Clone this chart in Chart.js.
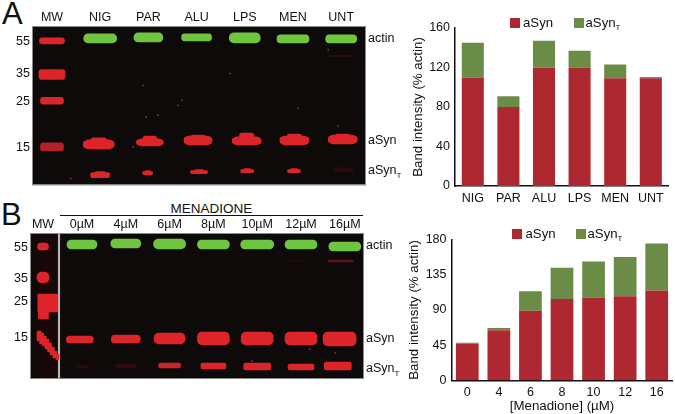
<!DOCTYPE html>
<html lang="en">
<head>
<meta charset="UTF-8" />
<title>aSyn band intensity</title>
<script src="https://cdn.jsdelivr.net/npm/chart.js"></script>
<style>
  html, body { margin: 0; padding: 0; background: #fff; }
  body { position: relative; width: 675px; height: 414px; overflow: hidden; font-family: "Liberation Sans", Arial, sans-serif; color: #111; }
  canvas { position: absolute; filter: blur(0.35px); }
  .letter { position: absolute; font-size: 31px; line-height: 31px; }
  .leg { position: absolute; font-size: 13.2px; line-height: 14px; white-space: nowrap; }
  .swatch { position: absolute; width: 10px; height: 10px; }
  .leg sub { font-size: 8px; line-height: 0; vertical-align: -3px; }
  #menadione { position: absolute; left: 60px; top: 202px; width: 303px; height: 13px; border-bottom: 1px solid #111; text-align: center; font-size: 13.5px; line-height: 14px; }
</style>
</head>
<body>
<div class="letter" style="left:2px;top:-2px">A</div>
<div class="letter" style="left:1px;top:199px">B</div>
<div id="menadione">MENADIONE</div>
<canvas id="gelA" width="410" height="195" style="left:0;top:0"></canvas>
<canvas id="gelB" width="410" height="195" style="left:0;top:195px"></canvas>
<canvas id="barA" width="265" height="205" style="left:410px;top:0"></canvas>
<canvas id="barB" width="269" height="209" style="left:406px;top:205px"></canvas>
<script>
// Bar charts
const treatments = ['NIG', 'PAR', 'ALU', 'LPS', 'MEN', 'UNT'];
const aSynA = [110, 80, 120, 120, 109, 109];
const aSynTA = [35, 11, 27, 17, 14, 1.5];
const doses = ['0', '4', '6', '8', '10', '12', '16'];
const aSynB = [47, 64, 89, 104, 106, 107.5, 115];
const aSynTB = [1, 3, 25, 40, 46, 50.5, 60];

// Gel A, lanes and band extents (migration distance from top of blot)
const lanesA = ['MW', 'NIG', 'PAR', 'ALU', 'LPS', 'MEN', 'UNT'];
const markersA = ['55', '35', '25', '15'];
const markerPosA = [15, 47, 75, 122];
const bandPosA = [12, 115, 145];
const actinTopA = [7, 6, 7, 6, 8, 8];
const actinBottomA = [16, 15, 14, 16, 16, 16];
const actinWidthA = [33, 29, 30, 31, 32, 31];
const synLaneA = [0.97, 2.03, 3.03, 4.04, 5.03, 6.03];
const synTopA = [112, 110, 109, 107, 108, 108];
const synShoulderA = [114, 113, 110, 111, 110, 109];
const synBottomA = [123, 120, 119, 119, 119, 118];
const synWidthA = [31, 27, 28, 29, 29, 29];
const truncLaneA = [1, 1.985, 3.05, 4.05, 5.02, 6.04];
const truncTopA = [146, 145, 144, 143, 143, 142];
const truncBottomA = [152, 149, 148, 147, 147, 146];
const truncWidthA = [19, 10, 17, 13, 13, 20];
const mwTopA = [11, 43, 71, 117];
const mwBottomA = [17, 53, 78, 125];
const mwWidthA = [25, 26, 23, 23];
const speckXA = [1.89, 1.95, 2.2, 2.7, 2.61, 3.69, 5.73, 5.1, 5.93, 0.39, 1.68];
const speckYA = [59, 91, 89, 74, 79, 47, 23, 82, 100, 153, 121];

// Gel B
const lanesB = ['MW', '0\u00B5M', '4\u00B5M', '6\u00B5M', '8\u00B5M', '10\u00B5M', '12\u00B5M', '16\u00B5M'];
const laneAxisB = [-0.89, 0, 1, 2, 3, 4, 5, 6];
const markersB = ['55', '35', '25', '15'];
const markerPosB = [14, 45, 68, 104];
const bandPosB = [12, 105, 135];
const actinTopB = [6, 5, 5, 6, 6, 6, 8];
const actinBottomB = [15, 14, 15, 15, 15, 15, 17];
const actinWidthB = [30, 30, 32, 32, 33, 32, 32];
const synLaneB = [-0.05, 1, 2, 3, 4, 5, 5.88];
const synTopB = [102, 101, 99, 98, 98, 98, 98];
const synBottomB = [109, 109, 110, 111, 111, 111, 112];
const synWidthB = [27, 29, 31, 32, 32, 32, 33];
const truncLaneB = [0, 1, 2, 3, 4, 5, 5.84];
const truncTopB = [131, 130, 129, 129, 129, 130, 128];
const truncBottomB = [134, 134, 134, 135, 136, 136, 136];
const truncWidthB = [12, 20, 22, 25, 27, 26, 27];
const truncColorB = ['#2a0b0c', '#2e0c0d', '#c8242a', '#dc2429', '#dc2429', '#dc2429', '#dc2429'];
// marker lane: 55, 35, the 25 smear in two parts, then the diagonal 15 smear
const mwLaneB = [-0.89, -0.89, -0.78, -0.88, -0.98, -0.92, -0.86, -0.8, -0.74, -0.68, -0.62, -0.56];
const mwTopB = [9, 38, 60, 76, 97, 99, 102, 105, 109, 113, 117, 120];
const mwBottomB = [16, 49, 78, 85, 107, 110, 112, 115, 118, 121, 124, 126];
const mwWidthB = [11, 12, 20, 10, 4, 4, 4, 4, 4, 4, 4, 3];
const speckXB = [5.2, 5.78, 3.88];
const speckYB = [115, 119, 127];

const gelRed = '#dc2429';
const gelGreen = '#6fc540';
const barRed = '#ad2830';
const barGreen = '#6b8c47';
const fontSpec = { family: '"Liberation Sans", Arial, sans-serif', size: 12.5 };
const titleFont = { family: '"Liberation Sans", Arial, sans-serif', size: 13.3 };

function band(x, top, bottom, width, color, radius) {
  return {
    type: 'bar', data: [{ x: x, y: [top, bottom] }], barThickness: width, grouped: false,
    backgroundColor: color, borderRadius: radius === undefined ? 5 : radius, borderSkipped: false
  };
}

function specks(xs, ys) {
  return {
    type: 'scatter', data: xs.map((x, i) => ({ x: x, y: ys[i] })),
    pointRadius: 0.8, pointBackgroundColor: '#c4453a', pointBorderWidth: 0
  };
}

// blot background, frame and the subscript on the aSyn-T row
function gelPlugin(bandPos) {
  return {
    id: 'gelFrame',
    beforeDatasetsDraw(chart) {
      const a = chart.chartArea, ctx = chart.ctx;
      ctx.save();
      ctx.fillStyle = '#0e0a0a';
      ctx.fillRect(a.left, a.top, a.width, a.height);
      ctx.restore();
    },
    afterDraw(chart) {
      const a = chart.chartArea, ctx = chart.ctx;
      ctx.save();
      ctx.strokeStyle = '#8a8a8a';
      ctx.strokeRect(a.left - 0.5, a.top - 0.5, a.width + 1, a.height + 1);
      ctx.font = '12.5px "Liberation Sans"';
      const w = ctx.measureText('aSyn').width;
      ctx.font = '8px "Liberation Sans"';
      ctx.fillStyle = '#111';
      ctx.textBaseline = 'middle';
      ctx.fillText('T', a.right + 3 + w, chart.scales.y.getPixelForValue(bandPos[2]) + 5);
      ctx.restore();
    }
  };
}

function gelChart(id, datasets, cfg) {
  const fixedTicks = (values) => (scale) => { scale.ticks = values.map(v => ({ value: v })); };
  return new Chart(document.getElementById(id), {
    type: 'bar',
    data: { datasets: datasets },
    plugins: [gelPlugin(cfg.bandPos)],
    options: {
      responsive: false,
      animation: false,
      layout: { padding: { bottom: cfg.bottom } },
      plugins: { legend: { display: false }, tooltip: { enabled: false } },
      scales: {
        x: {
          type: 'linear', position: 'top', offset: false, min: cfg.xMin, max: cfg.xMax,
          grid: { display: false, drawTicks: false }, border: { display: false },
          afterBuildTicks: fixedTicks(cfg.laneAxis),
          afterFit(s) { s.height = cfg.top; },
          ticks: {
            color: '#111', font: fontSpec, padding: 2, maxRotation: 0, autoSkip: false,
            callback: (v, i) => cfg.lanes[i]
          }
        },
        y: {
          type: 'linear', reverse: true, min: 0, max: cfg.height,
          grid: { display: false, drawTicks: false }, border: { display: false },
          afterBuildTicks: fixedTicks(cfg.markerPos),
          afterFit(s) { s.width = cfg.left; },
          ticks: {
            color: '#111', font: fontSpec, padding: 3, autoSkip: false,
            callback: (v, i) => cfg.markers[i]
          }
        },
        y2: {
          type: 'linear', position: 'right', reverse: true, min: 0, max: cfg.height,
          grid: { display: false, drawTicks: false }, border: { display: false },
          afterBuildTicks: fixedTicks(cfg.bandPos),
          afterFit(s) { s.width = cfg.right; },
          ticks: {
            color: '#111', font: fontSpec, padding: 3, autoSkip: false,
            callback: (v, i) => ['actin', 'aSyn', 'aSyn'][i]
          }
        }
      }
    }
  });
}

// Gel A. Note earlier datasets paint on top of later ones.
const gelSetA = [];
mwTopA.forEach((t, i) => gelSetA.push(band(0, t, mwBottomA[i], mwWidthA[i], i === 3 ? '#b3222a' : gelRed, 3)));
treatments.forEach((name, i) => {
  const bodyTop = synShoulderA[i];
  gelSetA.push(band(i + 1, actinTopA[i], actinBottomA[i], actinWidthA[i], gelGreen));
  // three stacked widths give the lens shape of the aSyn band
  gelSetA.push(band(synLaneA[i], bodyTop + 1, synBottomA[i] - 1, synWidthA[i], gelRed, 4));
  gelSetA.push(band(synLaneA[i], bodyTop, synBottomA[i], synWidthA[i] * 0.85, gelRed, 3));
  gelSetA.push(band(synLaneA[i], synTopA[i], bodyTop + 3, synWidthA[i] * 0.5, gelRed, 2.5));
  gelSetA.push(band(truncLaneA[i], truncTopA[i] + 1, truncBottomA[i], truncWidthA[i], name === 'UNT' ? '#2a0b0c' : gelRed, 2));
  gelSetA.push(band(truncLaneA[i], truncTopA[i], truncTopA[i] + 2, truncWidthA[i] * 0.5, name === 'UNT' ? '#2a0b0c' : gelRed, 1));
});
gelSetA.push(band(6, 28.5, 30, 25, '#260c0d', 0));
gelSetA.push(specks(speckXA, speckYA));
gelChart('gelA', gelSetA, {
  lanes: lanesA, laneAxis: lanesA.map((l, i) => i), markers: markersA, markerPos: markerPosA, bandPos: bandPosA,
  xMin: -0.394, xMax: 6.494, height: 159, top: 27, left: 33, right: 45, bottom: 9
});

// Gel B
const gelSetB = [];
mwTopB.forEach((t, i) => gelSetB.push(band(mwLaneB[i], t, mwBottomB[i], mwWidthB[i], gelRed, i < 2 ? 5 : 1)));
gelSetB.push(band(-0.525, 0, 144, 1.5, '#b5b5b5', 0));
actinTopB.forEach((t, i) => {
  gelSetB.push(band(i, t, actinBottomB[i], actinWidthB[i], gelGreen));
  gelSetB.push(band(synLaneB[i], synTopB[i], synBottomB[i], synWidthB[i], gelRed));
  gelSetB.push(band(truncLaneB[i], truncTopB[i], truncBottomB[i], truncWidthB[i], truncColorB[i], 2));
});
gelSetB.push(band(5.9, 26, 28, 25, '#5a1416', 0));
gelSetB.push(band(4.9, 26, 27.5, 22, '#1e0a0a', 0));
gelSetB.push(band(-0.78, 0, 144, 23, '#180707', 0));
gelSetB.push(specks(speckXB, speckYB));
gelChart('gelB', gelSetB, {
  lanes: lanesB, laneAxis: laneAxisB, markers: markersB, markerPos: markerPosB, bandPos: bandPosB,
  xMin: -1.164, xMax: 6.415, height: 144, top: 39, left: 31, right: 47, bottom: 12
});

// Stacked bars
function barChart(id, labels, red, green, cfg) {
  return new Chart(document.getElementById(id), {
    type: 'bar',
    data: {
      labels: labels,
      datasets: [
        { label: 'aSyn', data: red, backgroundColor: barRed, barPercentage: cfg.pct, categoryPercentage: 1 },
        { label: 'aSynT', data: green, backgroundColor: barGreen, barPercentage: cfg.pct, categoryPercentage: 1 }
      ]
    },
    options: {
      responsive: false,
      animation: false,
      layout: { padding: { top: cfg.top, right: cfg.right, bottom: cfg.bottom } },
      plugins: { legend: { display: false }, tooltip: { enabled: false } },
      scales: {
        x: {
          stacked: true,
          grid: { display: false, drawTicks: false },
          border: { color: '#111', width: 1.5 },
          afterFit(s) { s.height = cfg.axisHeight; },
          ticks: { color: '#111', font: fontSpec, padding: 5, maxRotation: 0, autoSkip: false },
          title: { display: !!cfg.xTitle, text: cfg.xTitle, color: '#111', font: titleFont, padding: { top: 1, bottom: 0 } }
        },
        y: {
          stacked: true, min: 0, max: cfg.max,
          grid: { display: false, drawTicks: true, tickLength: 4, tickColor: '#111', tickWidth: 1.2 },
          border: { color: '#111', width: 1.5 },
          afterFit(s) { s.width = cfg.left; },
          ticks: { color: '#111', font: fontSpec, padding: 1, stepSize: cfg.step },
          title: { display: true, text: 'Band intensity (% actin)', color: '#111', font: titleFont, padding: { top: 0, bottom: 0 } }
        }
      }
    }
  });
}

barChart('barA', treatments, aSynA, aSynTA, { pct: 0.62, max: 160, step: 40, top: 28, right: 6.4, bottom: 0, left: 45, axisHeight: 19 });
barChart('barB', doses, aSynB, aSynTB, { pct: 0.72, max: 180, step: 45, top: 34.7, right: 2.5, bottom: 0, left: 45.5, axisHeight: 33.7, xTitle: '[Menadione] (\u00B5M)' });

// Legends carry a subscript, so they are plain HTML
function htmlLegend(y, redX, redText, greenX, greenText) {
  const add = (cls, x, top, color, html) => {
    const el = document.createElement('div');
    el.className = cls;
    el.style.left = x + 'px';
    el.style.top = top + 'px';
    if (color) el.style.background = color;
    if (html) el.innerHTML = html;
    document.body.appendChild(el);
  };
  add('swatch', redX, y, barRed);
  add('leg', redText, y - 2, null, 'aSyn');
  add('swatch', greenX, y, barGreen);
  add('leg', greenText, y - 2, null, 'aSyn<sub>T</sub>');
}
htmlLegend(18, 510, 523, 574, 585.5);
htmlLegend(229, 512, 525.5, 575.5, 587.5);
</script>
</body>
</html>
